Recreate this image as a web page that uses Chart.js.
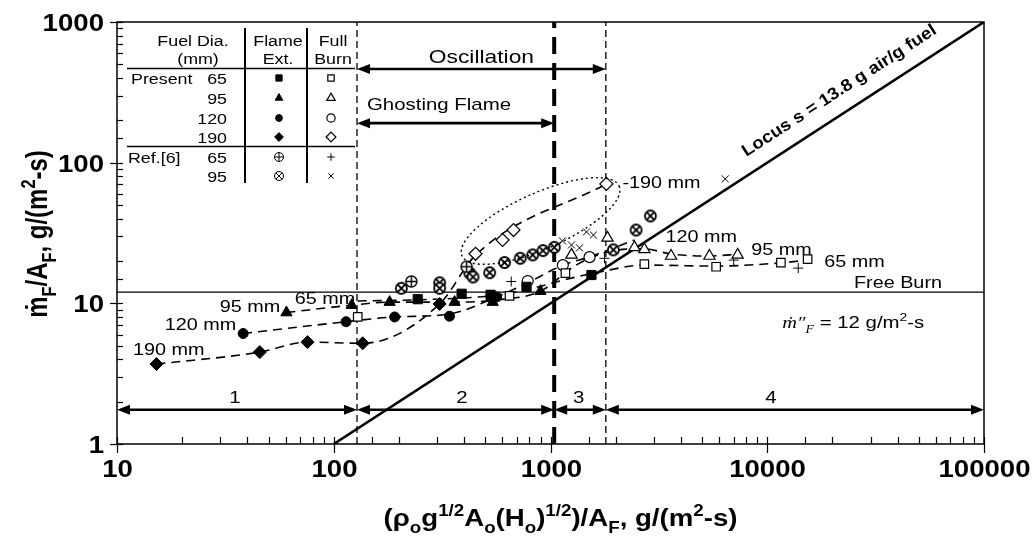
<!DOCTYPE html>
<html>
<head>
<meta charset="utf-8">
<title>Fuel mass burning rate vs. ventilation parameter</title>
<script src="https://cdn.jsdelivr.net/npm/chart.js@4.4.1/dist/chart.umd.min.js"></script>
<style>
  html, body { margin: 0; padding: 0; background: #fff; }
  #wrap { width: 1032px; height: 536px; }
</style>
</head>
<body>
<div id="wrap"><canvas id="chart" width="1032" height="536"></canvas></div>
<script>
// ---------- axis tick labels ----------
const xTickLabels = ['10', '100', '1000', '10000', '100000'];
const yTickLabels = ['1', '10', '100', '1000'];

// ---------- present study: flame extinction (filled) ----------
const ext65 = [[244, 10.7], [389, 11.7], [529, 11.5], [775, 13.1], [1545, 15.9]];
const ext95 = [[60.5, 8.6], [121, 9.7], [181, 10.2], [361, 10.2], [541, 10.2], [899, 12.2]];
const ext120 = [[38.2, 6.1], [114, 7.4], [191, 8.0], [342, 8.1], [564, 11.1]];
const ext190 = [[15.2, 3.7], [45.6, 4.5], [75.7, 5.3], [136, 5.2], [308, 9.9]];

// ---------- present study: full burn (open) ----------
const full65 = [[129, 8.0], [647, 11.3], [1172, 16.4], [2710, 19.0], [5810, 18.2], [11560, 19.5], [15350, 20.6]];
const full95 = [[1250, 22.1], [1832, 29.2], [2440, 25.0], [2710, 24.2], [3600, 21.7], [5410, 21.7], [7300, 22.1]];
const full120 = [[785, 14.4], [1140, 18.7], [1514, 21.3]];
const full190 = [[451, 22.5], [601, 28.2], [675, 33.2], [1811, 70.6]];

// ---------- Ref.[6] ----------
const refExt65 = [[228, 14.3], [410, 18.2]];
const refExt95 = [[205, 12.8], [308, 14.0], [308, 12.8], [424, 16.4], [439, 15.4], [524, 16.5], [614, 19.5],
                  [725, 20.9], [828, 22.1], [923, 23.7], [1042, 25.0], [1950, 24.0], [2483, 33.2], [2890, 41.8]];
const refFull65 = [[659, 14.3], [1774, 20.9], [7000, 20.3], [13900, 17.8]];
const refFull95 = [[1135, 27.8], [1250, 26.0], [1361, 24.8], [1466, 32.2], [1578, 30.6], [6400, 76.6]];

// ---------- dashed trend curves per fuel diameter ----------
const trend65 = [[129, 10.4], [249, 10.6], [524, 11.3], [775, 12.5], [1161, 14.7], [1683, 16.7], [2710, 18.7], [5810, 18.4], [11560, 19.4], [15350, 20.3]];
const trend95 = [[60.5, 8.6], [121, 9.7], [181, 10.2], [361, 10.2], [582, 10.6], [899, 12.2], [1291, 18.4], [1832, 23.2], [2710, 24.4], [3600, 22.4], [5410, 21.7], [7430, 22.4]];
const trend120 = [[38.2, 6.1], [114, 7.4], [191, 8.0], [342, 8.4], [564, 11.1], [800, 14.2], [1140, 18.7], [1514, 21.4], [2440, 28.2]];
const trend190 = [[15.2, 3.7], [45.6, 4.5], [75.7, 5.3], [136, 5.2], [308, 9.9], [451, 22.0], [1811, 70.6]];

// ---------- reference lines and regimes ----------
const locusX = [100, 100000];
const locusY = [1, 1000];
const freeBurnRate = 12;
const regimeBounds = [10, 128, 1040, 1800, 100000];
const regimeNames = ['1', '2', '3', '4'];
const regimeLabelX = [35, 390, 1350, 10400];
const regimeArrowY = 1.75;
const oscillationSpan = [128, 1800];
const oscillationY = 463;
const ghostingSpan = [128, 1040];
const ghostingY = 191;

const SANS = '"Liberation Sans", Arial, sans-serif';
const SERIF = '"Liberation Serif", "Times New Roman", serif';
Chart.defaults.font.family = SANS;
Chart.defaults.color = '#000';

const pts = arr => arr.map(([x, y]) => ({ x, y }));

// circle with a plus / cross inside, used for the Ref.[6] flame extinction symbols
function ringMark(r, kind, lw) {
  const s = Math.ceil(2 * r + lw + 2);
  const c = document.createElement('canvas');
  c.width = c.height = s;
  const g = c.getContext('2d');
  const m = s / 2;
  g.fillStyle = '#fff';
  g.strokeStyle = '#000';
  g.lineWidth = lw;
  g.beginPath(); g.arc(m, m, r, 0, 2 * Math.PI); g.fill(); g.stroke();
  g.beginPath();
  if (kind === '+') {
    g.moveTo(m - r, m); g.lineTo(m + r, m); g.moveTo(m, m - r); g.lineTo(m, m + r);
  } else {
    const d = r * Math.SQRT1_2;
    g.moveTo(m - d, m - d); g.lineTo(m + d, m + d); g.moveTo(m + d, m - d); g.lineTo(m - d, m + d);
  }
  g.stroke();
  return c;
}
const plusRing = ringMark(5.5, '+', 1.4);
const crossRing = ringMark(5.5, 'x', 1.8);
const plusRingSmall = ringMark(4.5, '+', 1);
const crossRingSmall = ringMark(4.5, 'x', 1);

const styles = {
  e65:  { pointStyle: 'rect', radius: 6.5, fill: '#000', bw: 1 },
  e95:  { pointStyle: 'triangle', radius: 6.5, fill: '#000', bw: 1 },
  e120: { pointStyle: 'circle', radius: 5, fill: '#000', bw: 1 },
  e190: { pointStyle: 'rectRot', radius: 6.5, fill: '#000', bw: 1 },
  f65:  { pointStyle: 'rect', radius: 6, fill: '#fff', bw: 1.2 },
  f95:  { pointStyle: 'triangle', radius: 6.5, fill: '#fff', bw: 1.2 },
  f120: { pointStyle: 'circle', radius: 5.5, fill: '#fff', bw: 1.2 },
  f190: { pointStyle: 'rectRot', radius: 6.5, fill: '#fff', bw: 1.2 },
  r65e: { pointStyle: plusRing, small: plusRingSmall, radius: 6, fill: '#fff', bw: 0 },
  r95e: { pointStyle: crossRing, small: crossRingSmall, radius: 6, fill: '#fff', bw: 0 },
  r65f: { pointStyle: 'cross', radius: 5, fill: '#000', bw: 1 },
  r95f: { pointStyle: 'crossRot', radius: 5, fill: '#000', bw: 1 }
};

function markerSet(label, data, st) {
  return {
    label, data: pts(data), showLine: false,
    pointStyle: st.pointStyle, pointRadius: st.radius,
    pointBackgroundColor: st.fill, pointBorderColor: '#000', pointBorderWidth: st.bw
  };
}
function lineSet(label, data, width, dash, smooth) {
  return {
    label, data: pts(data), showLine: true, pointRadius: 0,
    borderColor: '#000', borderWidth: width, borderDash: dash || [],
    cubicInterpolationMode: smooth ? 'monotone' : 'default', tension: 0, fill: false
  };
}
const vertical = (x) => [[x, 1], [x, 1000]];

const datasets = [
  markerSet('Present 65 mm, flame ext.', ext65, styles.e65),
  markerSet('Present 95 mm, flame ext.', ext95, styles.e95),
  markerSet('Present 120 mm, flame ext.', ext120, styles.e120),
  markerSet('Present 190 mm, flame ext.', ext190, styles.e190),
  markerSet('Present 65 mm, full burn', full65, styles.f65),
  markerSet('Present 95 mm, full burn', full95, styles.f95),
  markerSet('Present 120 mm, full burn', full120, styles.f120),
  markerSet('Present 190 mm, full burn', full190, styles.f190),
  markerSet('Ref.[6] 65 mm, flame ext.', refExt65, styles.r65e),
  markerSet('Ref.[6] 95 mm, flame ext.', refExt95, styles.r95e),
  markerSet('Ref.[6] 65 mm, full burn', refFull65, styles.r65f),
  markerSet('Ref.[6] 95 mm, full burn', refFull95, styles.r95f),
  lineSet('65 mm trend', trend65, 1.6, [9, 6], true),
  lineSet('95 mm trend', trend95, 1.6, [9, 6], true),
  lineSet('120 mm trend', trend120, 1.6, [9, 6], true),
  lineSet('190 mm trend', trend190, 1.6, [9, 6], true),
  lineSet('Locus', locusX.map((x, i) => [x, locusY[i]]), 2.6),
  lineSet('Free burn', [[10, freeBurnRate], [100000, freeBurnRate]], 1.3),
  lineSet('Boundary 1-2', vertical(regimeBounds[1]), 1.3, [7, 4]),
  lineSet('Boundary 2-3', vertical(regimeBounds[2]), 4, [17, 9]),
  lineSet('Boundary 3-4', vertical(regimeBounds[3]), 1.3, [7, 4])
];

// ---------- drawing helpers ----------
function fontOf(size, weight, style, family) {
  return [style, weight, size + 'px', family || SANS].filter(Boolean).join(' ');
}
// text run with sub (-1) / superscript (1) parts: [text, mode, style, family]
function rich(ctx, parts, x, y, o) {
  const size = o.size;
  const f = p => fontOf(p[1] ? size * 0.68 : size, o.weight, p[2], p[3] || o.family);
  ctx.save();
  ctx.translate(x, y);
  if (o.rot) ctx.rotate(o.rot);
  ctx.scale(o.sx || 1, o.sy || 1);
  ctx.textAlign = 'left';
  ctx.textBaseline = 'alphabetic';
  ctx.fillStyle = '#000';
  let w = 0;
  parts.forEach(p => { ctx.font = f(p); w += ctx.measureText(p[0]).width; });
  let cx = o.align === 'center' ? -w / 2 : o.align === 'right' ? -w : 0;
  parts.forEach(p => {
    ctx.font = f(p);
    const dy = p[1] === -1 ? size * 0.3 : p[1] === 1 ? -size * 0.42 : 0;
    ctx.fillText(p[0], cx, dy);
    cx += ctx.measureText(p[0]).width;
  });
  ctx.restore();
}
function text(ctx, s, x, y, o) { rich(ctx, [[s, 0]], x, y, o); }

function arrowHead(ctx, x, y, dir) {
  ctx.beginPath();
  ctx.moveTo(x, y);
  ctx.lineTo(x - dir * 13, y - 5);
  ctx.lineTo(x - dir * 13, y + 5);
  ctx.closePath();
  ctx.fill();
}
function doubleArrow(ctx, x1, x2, y, lw) {
  ctx.lineWidth = lw;
  ctx.beginPath(); ctx.moveTo(x1 + 8, y); ctx.lineTo(x2 - 8, y); ctx.stroke();
  arrowHead(ctx, x1, y, -1);
  arrowHead(ctx, x2, y, 1);
}
function drawMarker(ctx, st, x, y, r) {
  ctx.save();
  ctx.fillStyle = st.fill;
  ctx.strokeStyle = '#000';
  ctx.lineWidth = st.bw;
  const ps = typeof st.pointStyle === 'string' ? st.pointStyle : st.small;
  Chart.helpers.drawPoint(ctx, { pointStyle: ps, radius: r, rotation: 0, borderWidth: st.bw }, x, y);
  ctx.restore();
}

const isDecade = v => Math.abs(Math.log10(v) - Math.round(Math.log10(v))) < 1e-9;
const labelFor = (labels, v) => labels.find(s => Number(s) === v);

// ---------- annotation plugin ----------
const annotations = {
  id: 'annotations',
  afterDatasetsDraw(chart) {
    const ctx = chart.ctx;
    const xs = chart.scales.x, ys = chart.scales.y;
    const X = v => xs.getPixelForValue(v), Y = v => ys.getPixelForValue(v);
    const a = chart.chartArea;
    ctx.save();
    ctx.strokeStyle = '#000';
    ctx.fillStyle = '#000';

    // frame
    ctx.lineWidth = 1.5;
    ctx.strokeRect(a.left, a.top, a.right - a.left, a.bottom - a.top);

    // tick marks (decades cross the axis, minor ticks point inward) and decade labels
    ctx.lineWidth = 1.2;
    const tickFont = { size: 23, weight: 'bold', sx: 1.2 };
    ys.ticks.forEach(t => {
      const py = Math.round(Y(t.value)) + 0.5;
      const major = isDecade(t.value);
      ctx.beginPath();
      ctx.moveTo(a.left - (major ? 7 : 0), py);
      ctx.lineTo(a.left + 6, py);
      ctx.stroke();
      const s = labelFor(yTickLabels, t.value);
      if (s) text(ctx, s, a.left - 13, py + 8.5, Object.assign({ align: 'right' }, tickFont));
    });
    xs.ticks.forEach(t => {
      const px = Math.round(X(t.value)) + 0.5;
      const major = isDecade(t.value);
      ctx.beginPath();
      ctx.moveTo(px, a.bottom + (major ? 9 : 0));
      ctx.lineTo(px, a.bottom - 7);
      ctx.stroke();
      const s = labelFor(xTickLabels, t.value);
      if (s) text(ctx, s, px, a.bottom + 33, Object.assign({ align: 'center' }, tickFont));
    });

    // dotted ellipse around the Ref.[6] cluster
    ctx.save();
    ctx.setLineDash([2, 3]);
    ctx.lineWidth = 1.4;
    ctx.beginPath();
    ctx.ellipse(X(900), Y(38.5), 86, 28, -24 * Math.PI / 180, 0, 2 * Math.PI);
    ctx.stroke();
    ctx.restore();

    // regime arrows
    const ay = Y(regimeArrowY);
    for (let i = 0; i < regimeNames.length; i++) {
      doubleArrow(ctx, X(regimeBounds[i]), X(regimeBounds[i + 1]), ay, 2.6);
      text(ctx, regimeNames[i], X(regimeLabelX[i]), ay - 7, { size: 17, align: 'center', sx: 1.2 });
    }
    doubleArrow(ctx, X(oscillationSpan[0]), X(oscillationSpan[1]), Y(oscillationY), 2.6);
    text(ctx, 'Oscillation', (X(oscillationSpan[0]) + X(oscillationSpan[1])) / 2, Y(oscillationY) - 6,
         { size: 19, align: 'center', sx: 1.2 });
    doubleArrow(ctx, X(ghostingSpan[0]), X(ghostingSpan[1]), Y(ghostingY), 2.6);
    text(ctx, 'Ghosting Flame', X(ghostingSpan[0]) + 10, Y(ghostingY) - 13, { size: 17, sx: 1.2 });

    // curve labels
    const lab = { size: 16.5, sx: 1.2 };
    text(ctx, '95 mm', X(29.8), Y(8.73), lab);
    text(ctx, '65 mm', X(66.1), Y(9.9), lab);
    text(ctx, '120 mm', X(16.6), Y(6.47), lab);
    text(ctx, '190 mm', X(11.85), Y(4.3), lab);
    text(ctx, '-190 mm', X(2148), Y(66), lab);
    text(ctx, '120 mm', X(3390), Y(27.4), lab);
    text(ctx, '95 mm', X(8440), Y(22.1), lab);
    text(ctx, '65 mm', X(18300), Y(18.2), lab);
    text(ctx, 'Free Burn', X(64000), Y(12.9), { size: 16.5, sx: 1.2, align: 'right' });
    rich(ctx, [['\u1E41', 0, 'italic', SERIF], ['\u2033', 0, 'italic', SERIF], ['F', -1, 'italic', SERIF],
               [' = 12 g/m', 0], ['2', 1], ['-s', 0]],
         X(11730), Y(6.68), { size: 17, sx: 1.2 });

    // locus caption along the line
    const ang = Math.atan2(Y(locusY[1]) - Y(locusY[0]), X(locusX[1]) - X(locusX[0]));
    text(ctx, 'Locus s = 13.8 g air/g fuel', X(8000), Y(109.8), { size: 17, weight: 'bold', rot: ang, sx: 1.1 });

    // legend table
    ctx.lineWidth = 1.5;
    ctx.beginPath();
    ctx.moveTo(127, 68.5); ctx.lineTo(355, 68.5);
    ctx.moveTo(127, 146.5); ctx.lineTo(355, 146.5);
    ctx.stroke();
    ctx.lineWidth = 2;
    ctx.beginPath();
    ctx.moveTo(245, 28); ctx.lineTo(245, 183);
    ctx.moveTo(307, 28); ctx.lineTo(307, 183);
    ctx.stroke();
    const tf = { size: 15.5, sx: 1.15, align: 'center' };
    text(ctx, 'Fuel Dia.', 193, 46, tf);
    text(ctx, '(mm)', 198, 64, tf);
    text(ctx, 'Flame', 278, 46, tf);
    text(ctx, 'Ext.', 278, 64, tf);
    text(ctx, 'Full', 333, 46, tf);
    text(ctx, 'Burn', 333, 64, tf);
    const rows = [
      ['Present', '65', styles.e65, styles.f65, 78],
      ['', '95', styles.e95, styles.f95, 98],
      ['', '120', styles.e120, styles.f120, 118],
      ['', '190', styles.e190, styles.f190, 137],
      ['Ref.[6]', '65', styles.r65e, styles.r65f, 157],
      ['', '95', styles.r95e, styles.r95f, 176]
    ];
    rows.forEach(([who, dia, se, sf, cy]) => {
      if (who) text(ctx, who, who === 'Present' ? 131 : 128, cy + 5.5, { size: 15.5, sx: 1.15 });
      text(ctx, dia, 227, cy + 5.5, { size: 15.5, sx: 1.15, align: 'right' });
      drawMarker(ctx, se, 279, cy, se.radius * 0.68);
      drawMarker(ctx, sf, 331, cy, sf.radius * 0.75);
    });

    // axis titles
    rich(ctx, [['\u1E41', 0], ['F', -1], ['/A', 0], ['F', -1], [', g/(m', 0], ['2', 1], ['-s)', 0]],
         47, (a.top + a.bottom) / 2 + 1, { size: 24, weight: 'bold', rot: -Math.PI / 2, align: 'center', sy: 1.22 });
    rich(ctx, [['(\u03C1', 0], ['o', -1], ['g', 0], ['1/2', 1], ['A', 0], ['o', -1], ['(H', 0], ['o', -1], [')', 0],
               ['1/2', 1], [')/A', 0], ['F', -1], [', g/(m', 0], ['2', 1], ['-s)', 0]],
         (a.left + a.right) / 2 + 10, 526, { size: 23, weight: 'bold', align: 'center', sx: 1.2 });

    ctx.restore();
  }
};

new Chart(document.getElementById('chart'), {
  type: 'scatter',
  data: { datasets },
  options: {
    responsive: false,
    animation: false,
    events: [],
    layout: { padding: { top: 22, right: 48, left: 0, bottom: 0 } },
    plugins: { legend: { display: false }, tooltip: { enabled: false } },
    scales: {
      x: {
        type: 'logarithmic', min: 10, max: 100000,
        grid: { display: false, drawTicks: false },
        border: { display: false },
        ticks: { display: false, autoSkip: false },
        afterFit: s => { s.height = 92; }
      },
      y: {
        type: 'logarithmic', min: 1, max: 1000,
        grid: { display: false, drawTicks: false },
        border: { display: false },
        ticks: { display: false, autoSkip: false },
        afterFit: s => { s.width = 117; }
      }
    }
  },
  plugins: [annotations]
});
</script>
</body>
</html>
